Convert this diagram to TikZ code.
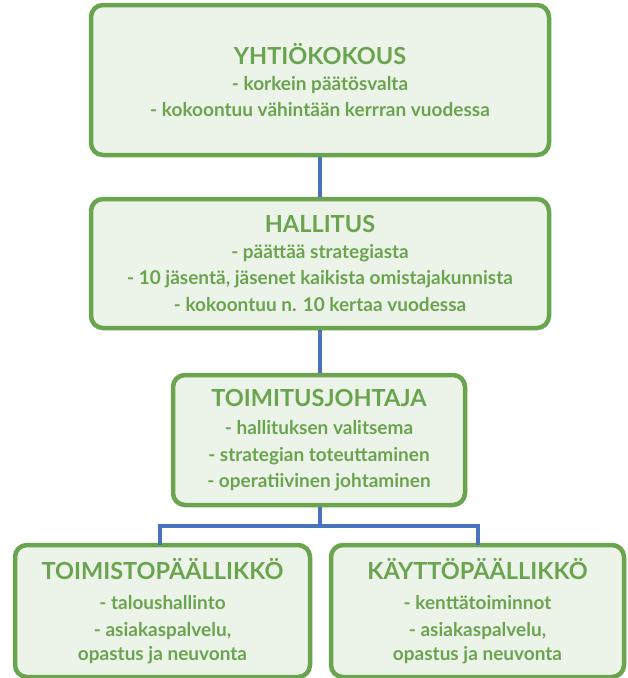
\documentclass[tikz,border=0pt]{standalone}
\usepackage{fontspec}
\setmainfont{Lato}
\usepackage{tikz}
\usetikzlibrary{calc}
\definecolor{leafgreen}{RGB}{ 106, 164, 79 }
\definecolor{palegreen}{RGB}{ 236, 243, 233 }
\definecolor{linkblue}{RGB}{ 74, 115, 190 }

\newcommand{\otsikko}[1]{{\fontsize{23.5}{26.5}\selectfont #1}}

\begin{document}
\begin{tikzpicture}[x=1pt,y=-1pt,font=\fontsize{19}{26.5}\selectfont\bfseries]
\tikzstyle{org box}=[rectangle,draw=leafgreen,fill=palegreen,line width=4.5pt,rounded corners=12pt,text=leafgreen,align=center,inner sep=0pt]
\tikzstyle{link}=[draw=linkblue,line width=4pt]

\useasboundingbox (0,0) rectangle (628,678);

\node(yk)[org box,minimum width=458pt,minimum height=150pt] at (320,80)
  {\otsikko{YHTIÖKOKOUS}\\[-1pt]
   - korkein päätösvalta\\
   - kokoontuu vähintään kerrran vuodessa};
\node(hal)[org box,minimum width=458pt,minimum height=129pt] at (320,263.5)
  {\otsikko{HALLITUS}\\[-1pt]
   - päättää strategiasta\\
   - 10 jäsentä, jäsenet kaikista omistajakunnista\\
   - kokoontuu n. 10 kertaa vuodessa};
\node(tj)[org box,minimum width=292pt,minimum height=130pt] at (319,440)
  {\otsikko{TOIMITUSJOHTAJA}\\[2pt]
   - hallituksen valitsema\\
   - strategian toteuttaminen\\
   - operatiivinen johtaminen};
\node(tp)[org box,minimum width=295pt,minimum height=132pt] at (162.5,611)
  {\otsikko{TOIMISTOPÄÄLLIKKÖ}\\[4pt]
   - taloushallinto\\[0.5pt]
   - asiakaspalvelu,\\[-2.5pt]
   opastus ja neuvonta};
\node(kp)[org box,minimum width=293pt,minimum height=132pt] at (477.5,611)
  {\otsikko{KÄYTTÖPÄÄLLIKKÖ}\\[4pt]
   - kenttätoiminnot\\[0.5pt]
   - asiakaspalvelu,\\[-2.5pt]
   opastus ja neuvonta};

% chain of command
\draw[link] (yk.south) -- (hal.north);
\draw[link] (hal.south) -- (hal.south |- tj.north);
% split to the two managers
\coordinate (haara) at (320,526);
\draw[link] (tj.south -| haara) -- (haara);
\draw[link,line cap=rect] ($(tp.north)+(-2.5,0)$) |- (haara) -| ($(kp.north)+(0.5,0)$);

\end{tikzpicture}
\end{document}
